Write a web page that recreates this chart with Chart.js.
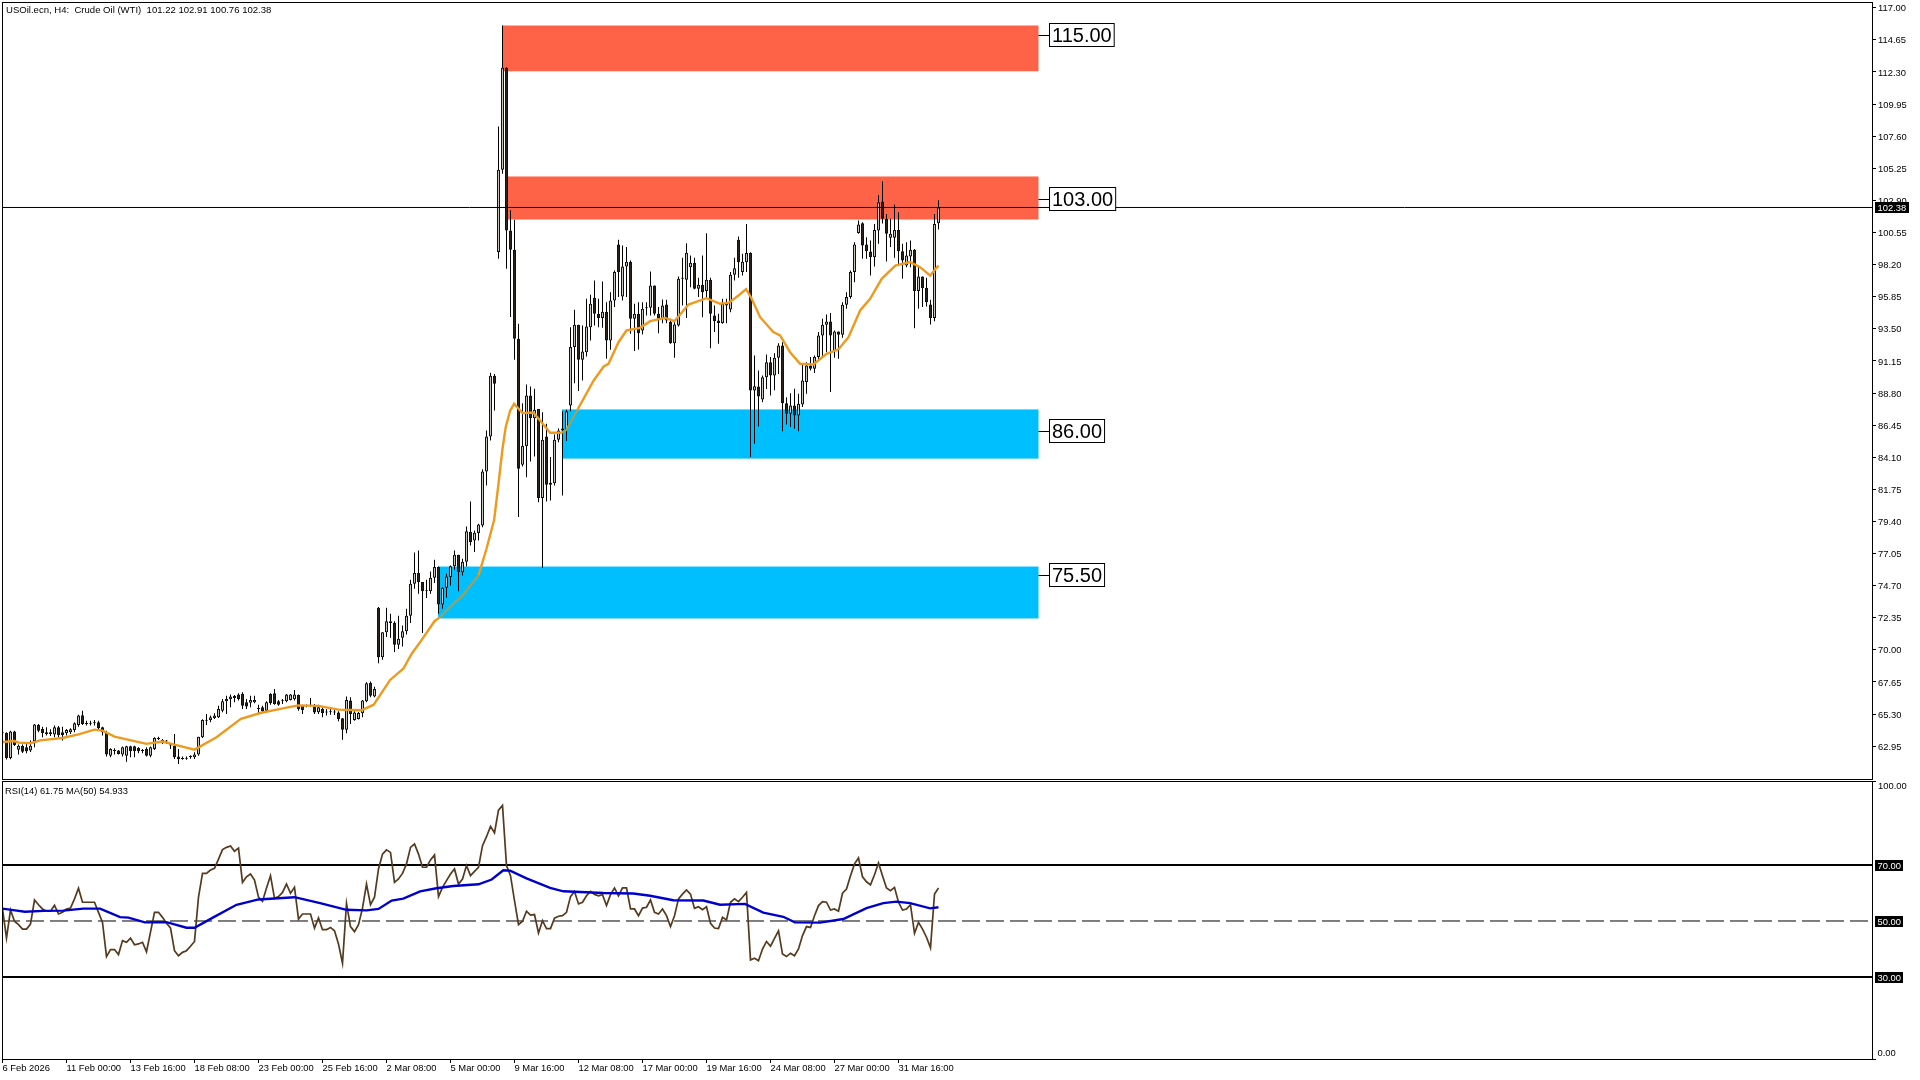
<!DOCTYPE html>
<html>
<head>
<meta charset="utf-8">
<title>USOil.ecn H4</title>
<script src="https://cdn.jsdelivr.net/npm/chart.js@4"></script>
<style>
html,body{margin:0;padding:0;background:#fff;width:1920px;height:1080px;overflow:hidden}
canvas{position:absolute;left:0;display:block}
#main{top:0}
#rsi{top:780px}
</style>
</head>
<body>
<canvas id="main" width="1920" height="780" style="width:1920px;height:780px"></canvas>
<canvas id="rsi" width="1920" height="300" style="width:1920px;height:300px"></canvas>
<script>
const headerText = "USOil.ecn, H4:  Crude Oil (WTI)  101.22 102.91 100.76 102.38";
const rsiText = "RSI(14) 61.75 MA(50) 54.933";
const xTickLabels = ["6 Feb 2026","11 Feb 00:00","13 Feb 16:00","18 Feb 08:00","23 Feb 00:00","25 Feb 16:00","2 Mar 08:00","5 Mar 00:00","9 Mar 16:00","12 Mar 08:00","17 Mar 00:00","19 Mar 16:00","24 Mar 08:00","27 Mar 00:00","31 Mar 16:00"];
const xTickBars = [0,16,32,48,64,80,96,112,128,144,160,176,192,208,224];
const priceTicks = [117,114.65,112.3,109.95,107.6,105.25,102.9,100.55,98.2,95.85,93.5,91.15,88.8,86.45,84.1,81.75,79.4,77.05,74.7,72.35,70,67.65,65.3,62.95];
const lastPrice = 102.38;
const levelPrices = [115,103,86,75.5];
const redZones = [[125,115.7,112.35],[126,104.65,101.5]];
const blueZones = [[140,87.6,84.0],[109,76.1,72.3]];
const zoneEndBar = 259;

const opens = [
63.92,63.92,62.09,64.02,62.70,62.99,62.87,62.63,63.31,64.51,
64.21,63.98,63.97,63.80,64.34,63.97,63.90,63.97,64.14,64.51,
65.21,64.63,64.60,64.68,64.70,64.34,63.97,62.26,62.65,62.63,
62.34,62.26,62.95,62.95,62.82,62.63,62.75,62.26,62.75,63.50,
63.41,63.33,63.10,62.99,62.19,62.06,62.04,62.14,62.14,62.34,
63.60,64.82,64.87,65.02,65.07,65.55,66.24,66.41,66.48,66.73,
66.77,66.16,66.14,66.16,65.68,65.80,65.55,66.77,66.82,66.24,
66.24,66.24,66.34,66.38,66.70,65.92,65.92,65.92,65.85,65.43,
65.68,65.43,65.43,65.43,65.41,64.99,64.16,66.29,64.87,64.95,
65.36,66.24,67.60,66.58,73.08,69.47,71.30,72.10,71.98,70.37,
70.89,71.37,72.50,74.84,75.62,74.96,74.30,74.30,75.28,76.06,
73.33,74.55,75.33,76.13,76.96,75.69,76.45,78.64,78.01,78.55,
79.11,83.06,85.62,90.06,99.12,105.14,112.60,100.70,99.29,92.78,
83.55,84.91,88.62,86.96,87.64,81.11,85.62,82.08,82.20,85.38,
86.06,86.06,87.89,92.16,93.79,91.23,91.79,93.62,95.77,94.60,
94.30,94.74,92.65,95.57,99.67,95.87,98.06,98.40,94.23,94.60,
93.38,95.00,95.04,96.67,94.60,94.23,95.28,93.99,92.45,93.74,
97.16,97.09,98.01,98.33,96.43,96.72,96.26,97.09,94.48,94.11,
93.92,95.33,94.91,97.45,100.01,97.65,98.38,99.04,88.99,89.28,
88.33,89.96,91.06,90.08,91.38,92.28,88.06,87.28,87.89,87.16,
87.96,89.60,90.82,90.57,91.43,93.01,93.79,94.04,91.87,93.30,
93.06,95.26,95.82,97.65,100.52,101.23,99.67,99.16,98.74,100.70,
102.82,101.55,100.16,100.16,100.74,99.18,98.13,98.79,99.28,96.26,
97.33,96.50,95.28,94.30,101.22];
const highs = [
64.0,63.97,64.09,64.09,63.07,63.07,63.12,63.36,64.58,64.58,
64.38,64.34,64.20,64.46,64.43,64.38,64.21,64.26,64.70,65.26,
65.55,64.82,64.82,64.87,64.82,64.38,64.09,62.80,62.80,62.68,
62.92,62.99,62.99,62.99,62.87,62.75,62.87,62.92,63.60,63.65,
63.48,63.41,63.12,63.85,62.75,62.19,62.19,62.29,62.50,63.65,
64.92,65.31,65.19,65.36,65.92,66.41,66.65,66.73,66.70,66.82,
66.90,66.41,66.65,66.65,65.99,65.92,66.24,66.82,67.14,66.34,
66.41,66.77,66.77,67.07,66.73,65.99,66.00,66.48,66.04,65.99,
65.80,65.68,65.68,65.68,65.51,65.02,66.58,66.53,65.51,65.46,
66.34,67.63,67.68,67.31,73.13,71.30,73.08,72.64,72.10,72.50,
71.79,73.01,75.13,77.13,77.28,74.96,75.13,75.74,76.59,76.11,
74.59,75.57,76.18,77.28,76.96,76.67,79.03,80.86,78.74,79.23,
83.23,86.06,90.28,90.20,108.31,115.70,112.65,102.17,101.48,93.87,
88.06,89.42,89.28,89.11,87.64,87.40,86.55,84.11,85.77,86.20,
87.47,87.57,93.62,94.89,93.79,93.74,95.70,95.99,97.04,95.70,
96.96,95.45,96.18,97.77,100.01,99.60,99.48,98.50,95.33,95.45,
95.45,95.45,97.69,96.67,95.09,95.65,95.62,94.23,94.11,97.33,
98.70,99.77,98.87,98.70,97.23,98.87,100.50,97.23,95.21,94.60,
95.70,95.70,97.65,98.70,100.26,98.99,101.18,99.11,91.55,90.45,
90.08,91.62,91.43,91.72,92.45,92.52,88.50,88.79,89.11,88.74,
90.94,91.06,91.43,91.55,93.26,94.23,94.55,94.65,93.38,93.30,
95.45,96.18,97.77,99.84,101.43,101.30,100.21,99.96,101.18,103.30,
104.28,101.90,101.55,102.60,102.04,99.72,99.84,99.96,99.35,98.13,
97.33,97.23,95.62,101.91,102.91];
const lows = [
63.8,61.97,61.99,62.97,62.34,62.46,62.43,62.53,62.87,63.97,
63.60,63.73,63.70,63.60,63.60,63.36,63.73,63.85,63.97,64.38,
64.51,64.46,64.46,64.46,64.09,63.73,62.19,62.14,62.34,62.34,
62.19,61.82,62.14,62.14,62.43,62.43,62.19,62.14,62.68,63.41,
63.12,63.12,62.75,62.02,61.65,61.95,61.95,62.04,62.02,62.26,
63.55,64.51,64.70,64.95,65.02,65.43,65.31,65.80,66.16,66.29,
65.68,65.68,65.80,66.09,65.36,65.43,65.43,65.99,65.99,65.92,
66.04,66.16,66.29,66.29,65.55,65.31,65.80,65.85,65.31,65.31,
65.07,65.19,65.26,65.24,64.78,63.43,63.90,64.58,64.82,64.90,
65.07,66.16,66.53,66.53,69.03,69.28,70.94,70.89,69.84,70.06,
70.25,71.13,71.96,74.47,74.11,71.23,73.79,74.11,74.89,72.64,
73.01,73.81,74.72,75.86,74.30,75.45,76.11,77.64,77.16,78.01,
78.98,82.03,85.33,87.52,98.63,104.85,97.90,94.36,91.24,79.72,
83.42,82.64,83.79,84.16,80.81,76.01,80.86,80.94,82.03,85.20,
81.30,85.28,87.47,89.52,88.94,89.72,91.48,92.65,93.74,93.62,
93.57,91.31,91.96,95.09,95.82,95.57,95.82,93.13,91.87,91.99,
93.09,94.48,94.48,94.48,93.18,93.91,93.91,92.40,91.38,93.67,
95.20,94.30,96.55,96.40,95.82,94.35,95.69,92.08,93.26,92.40,
93.87,93.90,94.72,97.04,97.23,97.40,97.65,84.11,85.08,86.35,
88.13,89.10,88.62,89.00,90.20,86.01,86.50,86.31,86.18,86.01,
87.77,88.74,90.45,90.26,91.18,91.43,91.79,88.87,91.38,91.31,
92.84,94.96,95.70,96.91,100.45,98.62,98.62,97.40,98.06,99.72,
101.20,98.43,99.48,98.70,98.13,97.16,98.01,98.01,93.55,94.96,
95.09,95.13,93.82,94.06,100.76];
const closes = [
63.9,62.09,64.02,63.04,62.99,62.55,62.58,62.99,64.53,64.09,
63.92,63.85,63.85,64.34,63.77,63.77,64.14,64.19,64.63,65.19,
64.58,64.58,64.63,64.63,64.26,63.97,62.34,62.75,62.60,62.38,
62.87,62.95,62.58,62.58,62.58,62.60,62.26,62.87,63.55,63.48,
63.24,63.30,63.00,62.14,61.99,62.02,62.06,62.24,62.34,63.65,
64.87,64.85,65.07,65.19,65.68,66.24,66.41,66.58,66.63,66.41,
65.92,65.85,66.34,66.34,65.70,65.51,66.16,66.09,66.04,65.99,
66.26,66.73,66.73,66.73,65.68,65.60,65.90,65.95,65.41,65.80,
65.38,65.41,65.45,65.41,64.94,64.16,66.34,65.31,65.41,65.38,
66.29,67.55,66.65,67.14,69.47,71.30,72.10,71.96,70.37,70.81,
71.37,72.50,74.84,75.62,74.96,74.30,74.32,75.28,76.06,73.33,
74.55,75.37,76.13,76.96,75.69,76.45,78.69,77.89,78.57,79.18,
83.06,85.62,90.06,89.47,105.14,112.60,100.70,99.29,92.78,83.25,
84.94,88.62,86.96,87.57,81.11,85.38,82.08,82.23,85.38,86.06,
86.20,87.47,92.16,93.79,91.23,91.84,93.67,95.33,94.60,94.30,
94.74,92.65,95.57,97.65,97.65,98.06,98.40,94.23,94.60,93.18,
94.96,95.05,96.67,94.60,94.23,95.21,94.11,92.45,93.82,97.16,
97.20,99.06,98.33,96.43,96.72,96.18,97.09,94.60,94.06,93.92,
95.33,95.20,97.45,97.94,98.38,98.40,99.04,88.99,89.30,88.55,
89.96,91.06,90.08,91.38,92.28,88.06,87.28,87.89,87.16,88.01,
89.72,90.82,90.57,91.43,93.01,93.79,94.04,93.01,93.30,93.06,
95.26,95.82,97.65,99.67,101.13,99.60,99.18,98.74,100.74,102.77,
101.55,100.45,100.45,100.74,99.18,98.50,98.87,99.28,96.26,97.33,
96.48,95.45,94.30,101.18,102.38];

const maBars = [0,3,4,7,9.4,15,19,23,25,28,36,40,43,48,53.5,59.6,64.7,69.8,73.9,79,84,89.7,92.8,96.9,100.2,102.3,104.4,108,109.4,113.1,114.8,119,121,122.9,124,125,125.8,126.9,127.9,130,132.7,134.4,136.9,139.8,141,143.6,147.8,150.3,151.5,154,156,159.4,161.9,165.65,168,171.5,176,179.4,181.5,184,185.9,187.3,189.4,192.7,194.4,196.9,199.4,202.7,206,209,211.5,214.4,216.9,219.8,223.2,226.9,229.4,231.9,234];
const maValues = [63.26,63.33,63.21,63.17,63.38,63.55,63.82,64.16,64.09,63.65,63.12,63.29,63.07,62.7,63.6,64.96,65.4,65.7,65.94,65.9,65.63,65.58,65.99,67.8,68.62,69.72,70.57,72.1,72.4,73.5,73.9,75.45,77.4,79.5,82.16,84.72,86.3,87.5,88.01,87.33,87.38,86.79,85.89,85.89,86.1,87.5,89.72,90.74,90.94,92.52,93.38,93.57,94.06,94.3,94.06,95.28,95.74,95.33,95.4,95.94,96.4,95.7,94.35,93.26,93.01,91.79,90.94,90.89,91.67,92,92.89,94.84,95.7,97.16,98.13,98.38,98.01,97.4,98.13];

const rsiValues = [
54.3,43.9,53.9,49.9,48.7,47.1,47.1,48.9,57.5,55.8,
54.3,53.5,53.5,55.6,52.5,53.1,54.3,54.6,57.9,61.7,
56.7,56.7,56.7,56.7,53.1,49.5,37.3,39.8,39.8,38,
43,42.4,43.9,41.5,41.8,42.4,39,46,53.1,53.1,
51.3,49.2,47.5,39.4,37.6,38.8,39.4,41,42.7,58.5,
67,67,68.2,68.8,72.1,75.5,76.3,76.8,74.9,76,
63.8,65.8,66.8,64.6,58.5,57,61.8,66.2,58.1,58.7,
60.2,63.2,59.9,62,50.7,52.5,52.5,52.5,47.5,51.1,
46.9,46.9,47.7,46.5,41.8,34.9,56.3,48,46.2,48.7,
54.6,63.2,55.8,58.5,68.6,73.9,75.4,74.5,63.8,65,
67,70.4,76.3,77.5,73.9,69.2,69.2,71.8,73.6,58.7,
62,64.4,66.8,68.6,63.2,65,69.8,66.2,67.7,69.2,
76.9,80.1,83.8,81.5,89.6,91.3,69.8,66.2,57.3,48.7,
49.9,53.5,52.1,52.3,45.7,50.1,47.3,47.3,51,51.7,
51.9,53.1,58.7,60.5,56.1,56.7,59,60.6,59.5,59,
59.4,55.5,59.4,61.8,59,61.8,61.8,54.3,54.3,51.9,
54.6,54.9,57.5,53.1,52.5,54.3,51.9,48,51.9,57.9,
59.6,61.1,59.6,54.5,55.1,54,55.1,49.2,47.5,47.3,
51.3,50.4,56.7,57.9,56.9,58.5,60.2,36.1,36.7,35.8,
40,42.7,41,43.8,46.5,38.2,37.3,38.5,37.6,40,
44.8,48,47.7,51.9,55.5,56.9,56.7,53.9,54.3,53.5,
59.9,61.4,66.2,70.4,72.5,65.8,64,62.9,66.5,70.7,
66.2,61.8,60.8,62,56.7,53.9,54.3,55.8,45.6,49.5,
47.1,44.2,40.4,59.6,61.75];
const rsiMaBars = [0,2.7,5.6,10.2,15.2,20.2,24.4,29.4,31.5,35.6,41,46,48,52.7,58.5,64,73,79.4,86,91,94,97.3,100.2,104.4,108.5,112.7,119,122.3,125.2,126.9,131,136.9,140.2,150.2,157.7,161.9,167.7,175.2,179.4,185.6,190.2,195.2,198.1,204.4,210.2,216,220.2,223.5,226.9,231.9,234];
const rsiMaValues = [54.4,53.9,53.3,53.6,53.7,54.4,54.4,51.4,51.2,49.5,49.6,47.6,47.6,51.3,55.8,57.7,58.5,56.4,54,53.8,54.3,57.3,58,60.6,61.7,62.5,63.1,64.8,68.1,68,65.2,61.8,60.6,60,59.8,59,57.4,57.3,55.8,56.1,53,51.5,49.5,49.4,50.7,54.6,56.4,56.9,56.4,54.5,54.93];
const rsiLevels = [70,50,30];
const rsiAxisTicks = [100,0];

const UI_FONT = '"Liberation Sans", Arial, sans-serif';
const X_MIN = -0.125, X_MAX = 467.375;
const pair = (xs, ys) => xs.map((x, i) => ({x, y: ys[i]}));
const bars = closes.map((_, i) => i);
const isUp = i => closes[i] >= opens[i];
const inBlue = (x, y) => blueZones.some(z => x >= z[0] && x <= zoneEndBar && y <= z[1] && y >= z[2]);

const sharedX = {
  type: 'linear', min: X_MIN, max: X_MAX, offset: false,
  grid: {display: false}, border: {display: false}
};
const fixY = s => { s.width = 48; s.paddingTop = 0; s.paddingBottom = 0; };

const frame = {
  id: 'frame',
  afterDraw(c) {
    const a = c.chartArea, g = c.ctx;
    g.save(); g.strokeStyle = '#000'; g.lineWidth = 1;
    g.strokeRect(a.left + .5, a.top + .5, a.right - a.left, a.bottom - a.top);
    g.restore();
  }
};

function blackBox(g, text, x, yc, w, h) {
  g.fillStyle = '#000';
  g.fillRect(x, yc - h / 2, w, h);
  g.fillStyle = '#fff';
  g.textAlign = 'left'; g.textBaseline = 'middle';
  g.fillText(text, x + 2.5, yc + .5);
}

const mainPaint = {
  id: 'mainPaint',
  beforeDatasetsDraw(c) {
    const g = c.ctx, X = c.scales.x, Y = c.scales.y;
    const fill = (z, col) => {
      g.fillStyle = col;
      const x0 = X.getPixelForValue(z[0]) - .5, x1 = X.getPixelForValue(zoneEndBar);
      const y0 = Y.getPixelForValue(z[1]), y1 = Y.getPixelForValue(z[2]);
      g.fillRect(x0, y0, x1 - x0, y1 - y0);
    };
    redZones.forEach(z => fill(z, '#FF6347'));
    blueZones.forEach(z => fill(z, '#00BFFF'));
  },
  afterDraw(c) {
    const g = c.ctx, X = c.scales.x, Y = c.scales.y;
    g.save();
    g.font = '9.55px ' + UI_FONT;
    g.fillStyle = '#000'; g.textAlign = 'left'; g.textBaseline = 'middle';
    g.fillText(headerText, 6, 10);
    const xr = X.getPixelForValue(zoneEndBar);
    levelPrices.forEach(p => {
      const y = Math.round(Y.getPixelForValue(p)) + .5;
      const t = p.toFixed(2);
      g.strokeStyle = '#000'; g.lineWidth = 1;
      g.beginPath(); g.moveTo(xr, y); g.lineTo(xr + 11, y); g.stroke();
      g.font = '20px ' + UI_FONT;
      const w = g.measureText(t).width + 5;
      g.fillStyle = '#fff';
      g.fillRect(xr + 11, y - 12, w, 23);
      g.strokeRect(xr + 11, y - 12, w, 23);
      g.fillStyle = '#000';
      g.fillText(t, xr + 13.5, y + 1);
    });
    g.font = '9.4px ' + UI_FONT;
    blackBox(g, lastPrice.toFixed(2), 1875, Y.getPixelForValue(lastPrice), 34, 11);
    g.restore();
  }
};

new Chart(document.getElementById('main'), {
  type: 'bar',
  plugins: [mainPaint, frame],
  data: {
    datasets: [
      {type: 'bar', label: 'Wick', order: 4, grouped: false, barThickness: 1, inflateAmount: 0,
       backgroundColor: '#000', borderWidth: 0,
       data: bars.map(i => ({x: i, y: [lows[i], highs[i]]}))},
      {type: 'bar', label: 'Body', order: 3, grouped: false, barThickness: 3, inflateAmount: 0,
       minBarLength: 1, borderSkipped: false, borderWidth: 1, borderColor: '#14100c',
       backgroundColor: bars.map(i => isUp(i) ? '#c8c8c0' : '#2c241c'),
       data: bars.map(i => ({x: i, y: [Math.min(opens[i], closes[i]), Math.max(opens[i], closes[i])]}))},
      {type: 'line', label: 'MA', order: 2, borderColor: '#EE9A1E', borderWidth: 2.4, pointRadius: 0, tension: 0,
       segment: {borderColor: s => inBlue((s.p0.parsed.x + s.p1.parsed.x) / 2, (s.p0.parsed.y + s.p1.parsed.y) / 2) ? '#9AA060' : undefined},
       data: pair(maBars, maValues)},
      {type: 'line', label: 'Last', order: 1, borderColor: '#000', borderWidth: 1, pointRadius: 0, tension: 0,
       data: [{x: X_MIN, y: lastPrice}, {x: X_MAX, y: lastPrice}]}
    ]
  },
  options: {
    responsive: false, animation: false, devicePixelRatio: 1,
    layout: {autoPadding: false, padding: {left: 2, top: 2, bottom: 1, right: 0}},
    plugins: {legend: {display: false}, tooltip: {enabled: false}},
    scales: {
      x: {...sharedX, display: false},
      y: {
        type: 'linear', position: 'right', min: 60.55, max: 117.42,
        afterBuildTicks: s => { s.ticks = priceTicks.map(v => ({value: v})); },
        afterFit: fixY,
        border: {display: false},
        grid: {drawOnChartArea: false, drawTicks: true, tickLength: 4, tickColor: '#000', lineWidth: 1},
        ticks: {autoSkip: false, crossAlign: 'near', padding: 2, labelOffset: 1, color: '#000',
          font: {family: UI_FONT, size: 9.4}, callback: v => v.toFixed(2)}
      }
    }
  }
});

const rsiPaint = {
  id: 'rsiPaint',
  afterDraw(c) {
    const g = c.ctx, Y = c.scales.y;
    g.save();
    g.font = '9.4px ' + UI_FONT;
    g.fillStyle = '#000'; g.textAlign = 'left'; g.textBaseline = 'middle';
    g.fillText(rsiText, 5, 11);
    g.fillText(rsiAxisTicks[0].toFixed(2), 1878, Math.max(Y.getPixelForValue(rsiAxisTicks[0]), Y.top) + 5.5);
    g.fillText(rsiAxisTicks[1].toFixed(2), 1877.5, Math.min(Y.getPixelForValue(rsiAxisTicks[1]), Y.bottom) - 5.5);
    rsiLevels.forEach(v => blackBox(g, v.toFixed(2), 1875, Y.getPixelForValue(v) + .5, 28, 11));
    g.restore();
  }
};

new Chart(document.getElementById('rsi'), {
  type: 'line',
  plugins: [rsiPaint, frame],
  data: {
    datasets: [
      {label: 'L70', order: 5, borderColor: '#000', borderWidth: 2, pointRadius: 0,
       data: [{x: X_MIN, y: rsiLevels[0]}, {x: X_MAX, y: rsiLevels[0]}]},
      {label: 'L50', order: 5, borderColor: '#000', borderWidth: 1, borderDash: [18, 6], pointRadius: 0,
       data: [{x: X_MIN, y: rsiLevels[1]}, {x: X_MAX, y: rsiLevels[1]}]},
      {label: 'L30', order: 5, borderColor: '#000', borderWidth: 2, pointRadius: 0,
       data: [{x: X_MIN, y: rsiLevels[2]}, {x: X_MAX, y: rsiLevels[2]}]},
      {label: 'RSI', order: 2, borderColor: '#553A1E', borderWidth: 1.7, pointRadius: 0, tension: 0,
       data: pair(bars, rsiValues)},
      {label: 'MA', order: 1, borderColor: '#0000CD', borderWidth: 2.4, pointRadius: 0, tension: 0,
       data: pair(rsiMaBars, rsiMaValues)}
    ]
  },
  options: {
    responsive: false, animation: false, devicePixelRatio: 1,
    layout: {autoPadding: false, padding: {left: 2, top: 1, bottom: 0, right: 0}},
    plugins: {legend: {display: false}, tooltip: {enabled: false}},
    scales: {
      x: {
        ...sharedX, position: 'bottom',
        afterBuildTicks: s => { s.ticks = xTickBars.map(v => ({value: v})); },
        afterFit: s => { s.height = 21; s.paddingLeft = 0; s.paddingRight = 0; },
        grid: {display: true, drawOnChartArea: false, drawTicks: true, tickLength: 4, tickColor: '#000', lineWidth: 1},
        ticks: {autoSkip: false, maxRotation: 0, minRotation: 0, align: 'start', padding: 0, color: '#000',
          font: {family: UI_FONT, size: 9.4}, callback: (v, i) => xTickLabels[i]}
      },
      y: {
        type: 'linear', position: 'right', min: 0.71, max: 100,
        afterBuildTicks: s => { s.ticks = [{value: s.max}, {value: s.min}]; },
        afterFit: fixY,
        border: {display: false},
        grid: {drawOnChartArea: false, drawTicks: true, tickLength: 4, tickColor: '#000', lineWidth: 1},
        ticks: {display: false}
      }
    }
  }
});
</script>
</body>
</html>
